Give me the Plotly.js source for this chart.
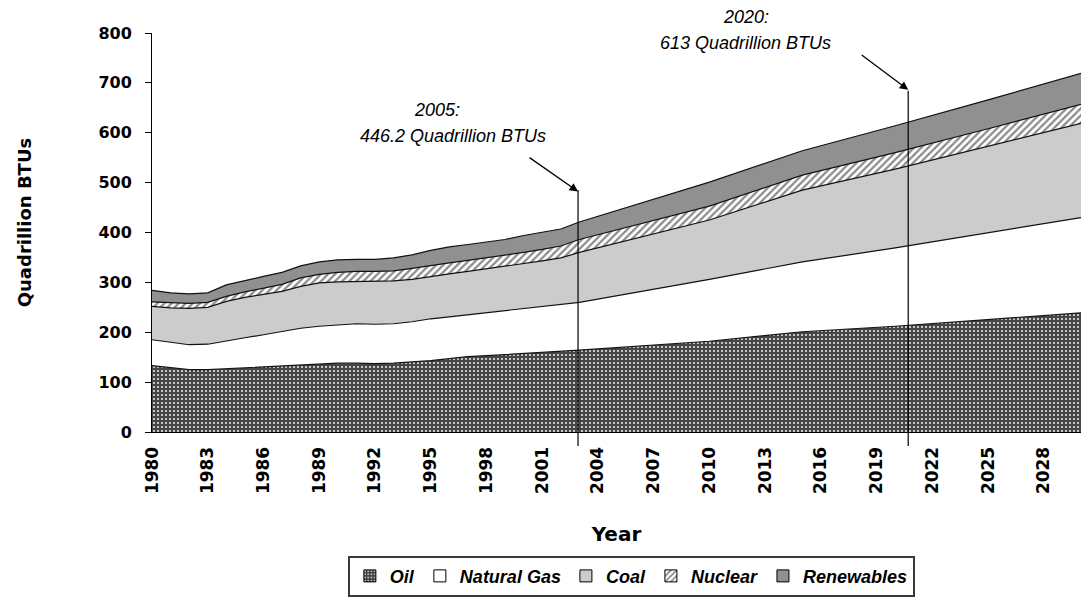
<!DOCTYPE html>
<html>
<head>
<meta charset="utf-8">
<script src="https://cdn.plot.ly/plotly-3.0.1.min.js"></script>
<style>
  html, body { margin: 0; padding: 0; background: #ffffff; }
  #chart { width: 1083px; height: 615px; }
</style>
</head>
<body>
<div id="chart"></div>
<script>
// ---- data (Quadrillion BTUs) ----
const years = [1980,1981,1982,1983,1984,1985,1986,1987,1988,1989,
               1990,1991,1992,1993,1994,1995,1996,1997,1998,1999,
               2000,2001,2002,2003,2010,2015,2020,2025,2030];
const oil = [133,129,125,125,127,129,131,133,135,137,
             138,138,137,138,140,143,147,151,153,155,
             157,160,162,164,182,201,212,225,239];
const naturalGas = [52,51,50,51,56,60,64,68,73,75,
                    77,79,79,79,81,84,84,84,86,88,
                    90,91,93,96,124,140,157,174,191];
const coal = [67,69,73,74,79,81,81,81,84,87,
              86,85,87,86,85,85,86,87,88,89,
              91,92,94,100,119,144,158,174,189];
const nuclear = [9,10,10,10,10,11,12,14,17,17,
                 19,20,19,20,22,22,22,22,22,23,
                 22,23,24,26,28,30,33,35,38];
const renewables = [23,20,19,19,23,23,24,24,24,25,
                    25,24,24,26,27,30,32,32,32,31,
                    34,35,34,35,48,49,54,58,62];
const seriesNames = ['Oil', 'Natural Gas', 'Coal', 'Nuclear', 'Renewables'];
const tickYears = [1980,1983,1986,1989,1992,1995,1998,2001,2004,2007,2010,2013,2016,2019,2022,2025,2028];
const yTicks = [0,100,200,300,400,500,600,700,800];

// annotation facts
const markYears = [2002.93, 2020.7];
const markTops = [482, 686];
const markLabels = [['2005:', '446.2 Quadrillion BTUs'], ['2020:', '613 Quadrillion BTUs']];

// ---- styles ----
const fills = [
  {color: '#4a4a4a', pattern: {shape: '.', bgcolor: '#464646', fgcolor: '#e6e6e6', size: 4, solidity: 0.22}},
  {color: '#ffffff', pattern: null},
  {color: '#cccccc', pattern: null},
  {color: '#ffffff', pattern: {shape: '/', bgcolor: '#ffffff', fgcolor: '#8a8a8a', size: 5, solidity: 0.45}},
  {color: '#909090', pattern: null}
];
const seriesValues = [oil, naturalGas, coal, nuclear, renewables];

const traces = [];
seriesValues.forEach((vals, i) => {
  const t = {
    type: 'scatter', mode: 'lines', x: years, y: vals,
    stackgroup: 'energy', name: seriesNames[i],
    line: {color: '#111111', width: 1.2},
    fillcolor: fills[i].color, showlegend: false, hoverinfo: 'skip'
  };
  if (fills[i].pattern) t.fillpattern = fills[i].pattern;
  traces.push(t);
});
// legend swatches (square, patterned)
seriesNames.forEach((nm, i) => {
  const m = {color: fills[i].color, line: {color: '#000000', width: 1}};
  if (fills[i].pattern) m.pattern = fills[i].pattern;
  traces.push({type: 'bar', x: [null], y: [null], name: nm, marker: m, showlegend: true, hoverinfo: 'skip'});
});

const tickFont = {family: 'DejaVu Sans', size: 16, weight: 'bold', color: '#000000'};
const xTickFont = {family: 'DejaVu Sans', size: 17, weight: 'bold', color: '#000000'};
const annFont = {family: 'Liberation Sans, Arial', size: 18, style: 'italic', color: '#000000'};

const annotations = [
  {xref: 'x', yref: 'paper', x: 1995.35, y: 0.807, text: markLabels[0][0], showarrow: false, font: annFont, xanchor: 'center', yanchor: 'middle'},
  {xref: 'x', yref: 'paper', x: 1996.2, y: 0.742, text: markLabels[0][1], showarrow: false, font: annFont, xanchor: 'center', yanchor: 'middle'},
  {xref: 'x', yref: 'paper', x: 2011.95, y: 1.040, text: markLabels[1][0], showarrow: false, font: annFont, xanchor: 'center', yanchor: 'middle'},
  {xref: 'x', yref: 'paper', x: 2011.95, y: 0.975, text: markLabels[1][1], showarrow: false, font: annFont, xanchor: 'center', yanchor: 'middle'},
  {xref: 'x', yref: 'y', x: markYears[0], y: markTops[0], text: '', showarrow: true, ax: -50, ay: -35,
   arrowhead: 2, arrowsize: 1.3, arrowwidth: 1.3, arrowcolor: '#000000', standoff: 0},
  {xref: 'x', yref: 'y', x: markYears[1], y: markTops[1], text: '', showarrow: true, ax: -48, ay: -36,
   arrowhead: 2, arrowsize: 1.3, arrowwidth: 1.3, arrowcolor: '#000000', standoff: 0},
  {xref: 'paper', yref: 'paper', x: -0.137, y: 0.525, text: 'Quadrillion BTUs', textangle: -90, showarrow: false,
   xanchor: 'center', yanchor: 'middle',
   font: {family: 'DejaVu Sans', size: 18, weight: 'bold', color: '#000000'}}
];

const shapes = [
  {type: 'line', xref: 'x', yref: 'paper', x0: markYears[0], x1: markYears[0], y0: -0.035, y1: 0.6065, line: {color: '#000000', width: 1.2}},
  {type: 'line', xref: 'x', yref: 'paper', x0: markYears[1], x1: markYears[1], y0: -0.035, y1: 0.855, line: {color: '#000000', width: 1.2}}
];

const layout = {
  width: 1083, height: 615,
  margin: {l: 152, r: 2, t: 33, b: 183},
  paper_bgcolor: '#ffffff', plot_bgcolor: '#ffffff',
  showlegend: true,
  xaxis: {
    type: 'linear', range: [1980, 2030],
    tickmode: 'array', tickvals: tickYears, ticktext: tickYears.map(String),
    tickangle: -90, tickfont: xTickFont, ticks: '', ticklabelstandoff: 7,
    showline: true, linecolor: '#000000', linewidth: 1,
    showgrid: false, zeroline: false,
    title: {text: 'Year', font: {family: 'DejaVu Sans', size: 20, weight: 'bold', color: '#000000'}, standoff: 33}
  },
  yaxis: {
    range: [0, 800], tickmode: 'array', tickvals: yTicks,
    tickfont: tickFont, ticks: 'outside', ticklen: 6, tickcolor: '#000000', tickwidth: 1,
    ticklabelstandoff: 10,
    showline: true, linecolor: '#000000', linewidth: 1,
    showgrid: false, zeroline: false
  },
  legend: {
    orientation: 'h', x: 0.516, xanchor: 'center', y: -0.31, yanchor: 'top',
    traceorder: 'normal',
    font: {family: 'Liberation Sans, Arial', size: 18, weight: 'bold', style: 'italic', color: '#000000'},
    bgcolor: '#ffffff', bordercolor: '#3a3a3a', borderwidth: 2,
    itemclick: false, itemdoubleclick: false
  },
  annotations: annotations,
  shapes: shapes
};

Plotly.newPlot('chart', traces, layout, {staticPlot: true, displayModeBar: false});
</script>
</body>
</html>
